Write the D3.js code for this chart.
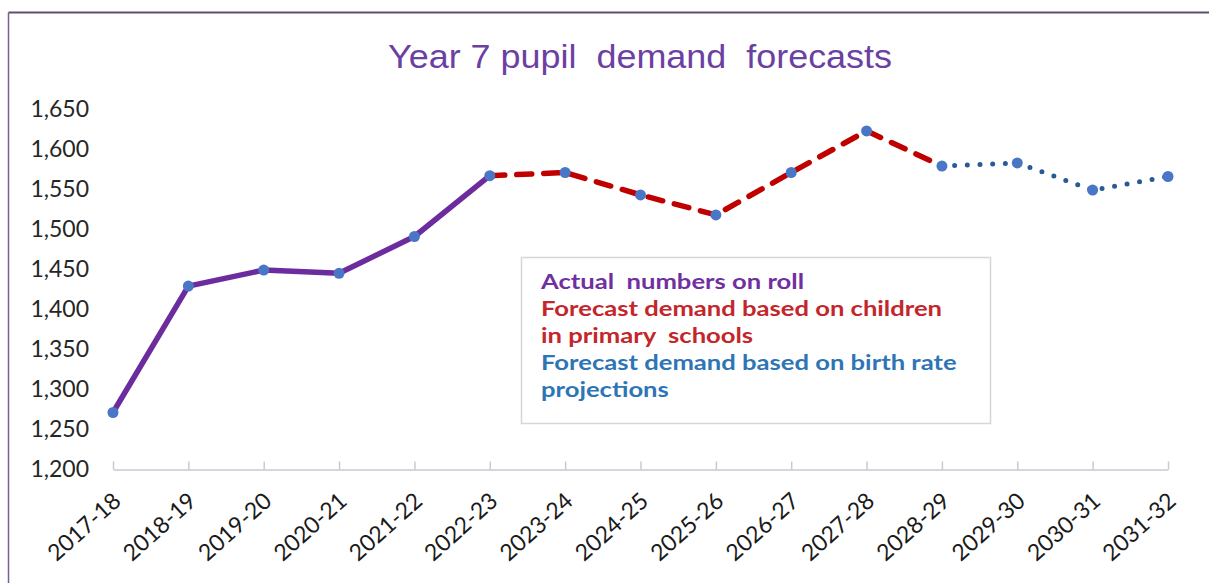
<!DOCTYPE html>
<html>
<head>
<meta charset="utf-8">
<script src="https://cdn.jsdelivr.net/npm/d3@7"></script>
<style>
  html, body { margin: 0; padding: 0; background: #fff; }
  svg { display: block; }
</style>
</head>
<body>
<svg id="chart" width="1209" height="583"></svg>
<script>
// School years on the x axis
const years = ["2017-18","2018-19","2019-20","2020-21","2021-22","2022-23","2023-24",
               "2024-25","2025-26","2026-27","2027-28","2028-29","2029-30","2030-31","2031-32"];

// Actual Year 7 numbers on roll
const actualYears  = ["2017-18","2018-19","2019-20","2020-21","2021-22","2022-23"];
const actualValues = [1270, 1428, 1448, 1444, 1490, 1566];

// Forecast from children currently in primary schools
const primaryYears  = ["2022-23","2023-24","2024-25","2025-26","2026-27","2027-28","2028-29"];
const primaryValues = [1566, 1570, 1542, 1517, 1570, 1622, 1578];

// Forecast from birth rate projections
const birthYears  = ["2028-29","2029-30","2030-31","2031-32"];
const birthValues = [1578, 1582, 1548, 1565];

// Y axis ticks
const yTicks = [1200, 1250, 1300, 1350, 1400, 1450, 1500, 1550, 1600, 1650];

const legendLines = [
  { text: "Actual  numbers on roll", color: "#7030A0" },
  { text: "Forecast demand based on children", color: "#C3262B" },
  { text: "in primary  schools", color: "#C3262B" },
  { text: "Forecast demand based on birth rate", color: "#2E75B6" },
  { text: "projections", color: "#2E75B6" }
];

const svg = d3.select("#chart");

// chart frame (top and left edges)
svg.append("line").attr("x1", 8.5).attr("y1", 12.5).attr("x2", 1209).attr("y2", 12.5)
  .attr("stroke", "#5e4d6e").attr("stroke-width", 2);
svg.append("line").attr("x1", 8.5).attr("y1", 12.5).attr("x2", 8.5).attr("y2", 583)
  .attr("stroke", "#7a5f92").attr("stroke-width", 1.5);

const x = d3.scalePoint().domain(years).range([113, 1168]);
const y = d3.scaleLinear().domain([1200, 1650]).range([468.5, 108.5]);

// title
svg.append("text")
  .attr("x", 388).attr("y", 68)
  .attr("textLength", 504).attr("lengthAdjust", "spacingAndGlyphs")
  .style("white-space", "pre")
  .attr("font-family", "Liberation Sans, Arial, sans-serif")
  .attr("font-size", 33)
  .attr("fill", "#6C3FA2")
  .text("Year 7 pupil  demand  forecasts");

// y axis labels (no axis line)
const yAxis = d3.axisLeft(y).tickValues(yTicks).tickSize(0).tickPadding(0)
  .tickFormat(d3.format(","));
const yg = svg.append("g").attr("transform", "translate(89,0)").call(yAxis);
yg.select(".domain").remove();
yg.selectAll("text")
  .attr("font-family", "Lato, sans-serif").attr("font-size", 23)
  .attr("fill", "#262626").attr("dy", "0.35em");

// x axis with ticks pointing up
const xAxis = d3.axisBottom(x).tickSizeInner(-8).tickSizeOuter(0).tickFormat("");
const xg = svg.append("g").attr("transform", "translate(0,469.5)").call(xAxis);
xg.select(".domain").attr("stroke", "#C9C9D3").attr("stroke-width", 1.5);
xg.selectAll(".tick line").attr("stroke", "#C9C9D3").attr("stroke-width", 1.5);

// rotated category labels
svg.append("g").selectAll("text").data(years).join("text")
  .attr("transform", d => `translate(${x(d) + 4},${497}) rotate(-42)`)
  .attr("text-anchor", "end")
  .attr("dy", "0.35em")
  .attr("font-family", "Lato, sans-serif").attr("font-size", 23)
  .attr("fill", "#1a1a1a")
  .text(d => d);

const line = d3.line().x(d => x(d[0])).y(d => y(d[1]));

svg.append("path").datum(d3.zip(actualYears, actualValues))
  .attr("d", line).attr("fill", "none")
  .attr("stroke", "#6C2C9E").attr("stroke-width", 5.5)
  .attr("stroke-linejoin", "round");

svg.append("path").datum(d3.zip(primaryYears, primaryValues))
  .attr("d", line).attr("fill", "none")
  .attr("stroke", "#C00000").attr("stroke-width", 5.5)
  .attr("stroke-linecap", "round")
  .attr("stroke-dasharray", "15,12");

svg.append("path").datum(d3.zip(birthYears, birthValues))
  .attr("d", line).attr("fill", "none")
  .attr("stroke", "#285A96").attr("stroke-width", 5)
  .attr("stroke-linecap", "round")
  .attr("stroke-dasharray", "0,12.7");

// markers on every data point
const allPoints = [
  ...d3.zip(actualYears, actualValues),
  ...d3.zip(primaryYears.slice(1), primaryValues.slice(1)),
  ...d3.zip(birthYears.slice(1), birthValues.slice(1))
];
svg.append("g").selectAll("circle").data(allPoints).join("circle")
  .attr("cx", d => x(d[0])).attr("cy", d => y(d[1]))
  .attr("r", 5.5).attr("fill", "#4A76C6");

// legend box
const lg = svg.append("g");
lg.append("rect").attr("x", 521.5).attr("y", 257.5).attr("width", 469).attr("height", 166)
  .attr("fill", "#fff").attr("stroke", "#D6D6D6").attr("stroke-width", 1.5);
// legend text, widened horizontally to the box
lg.append("g")
  .attr("transform", "translate(541,0) scale(1.22,1)")
  .selectAll("text").data(legendLines).join("text")
  .attr("x", 0)
  .attr("y", (d, i) => 289 + i * 27)
  .style("white-space", "pre")
  .attr("font-family", "Lato, sans-serif").attr("font-weight", "bold").attr("font-size", 21)
  .attr("fill", d => d.color)
  .text(d => d.text);
</script>
</body>
</html>
